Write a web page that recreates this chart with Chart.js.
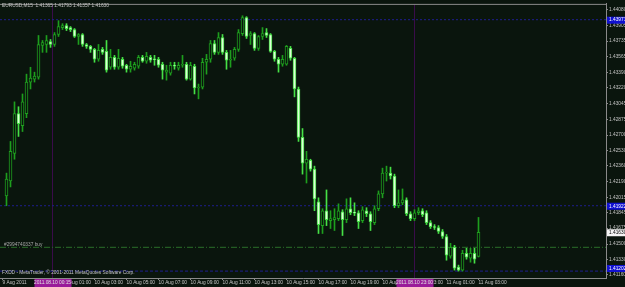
<!DOCTYPE html>
<html>
<head>
<meta charset="utf-8">
<script src="https://cdn.jsdelivr.net/npm/chart.js@4.4.1/dist/chart.umd.min.js"></script>
<style>
  html, body { margin: 0; padding: 0; background: #0a150d; overflow: hidden; }
  canvas { display: block; }
</style>
</head>
<body>
<canvas id="chart" width="625" height="287"></canvas>
<script>
// EURUSD M15 candles, 9 Aug 21:30 .. 11 Aug 03:00
const openP = [
  1.42031, 1.42194, 1.42499, 1.42936, 1.42805, 1.42936, 1.43284, 1.43316, 1.43338, 1.43687,
  1.43698, 1.43731, 1.43698, 1.43808, 1.43884, 1.43906, 1.43884, 1.43862, 1.43786, 1.43808,
  1.43698, 1.43677, 1.43644, 1.43535, 1.43644, 1.43622, 1.43447, 1.43556, 1.43447, 1.43535,
  1.43469, 1.43425, 1.43436, 1.43458, 1.43556, 1.43513, 1.43556, 1.43535, 1.43535, 1.43480,
  1.43393, 1.43382, 1.43469, 1.43436, 1.43469, 1.43480, 1.43316, 1.43458, 1.43219, 1.43229,
  1.43502, 1.43535, 1.43709, 1.43611, 1.43775, 1.43611, 1.43524, 1.43546, 1.43644, 1.43818,
  1.43993, 1.43797, 1.43818, 1.43655, 1.43786, 1.43829, 1.43808, 1.43622, 1.43535, 1.43480,
  1.43480, 1.43655, 1.43546, 1.43208, 1.42674, 1.42390, 1.42423, 1.42325, 1.41965, 1.41703,
  1.41867, 1.41758, 1.41769, 1.41780, 1.41856, 1.41769, 1.41889, 1.41845, 1.41845, 1.41758,
  1.41867, 1.41834, 1.41736, 1.41889, 1.42052, 1.42281, 1.42281, 1.42249, 1.41922, 1.41954,
  1.41987, 1.41834, 1.41780, 1.41845, 1.41867, 1.41845, 1.41736, 1.41692, 1.41682, 1.41638,
  1.41583, 1.41366, 1.41464, 1.41246, 1.41213, 1.41399, 1.41344, 1.41399, 1.41365
];
const highP = [
  1.42281, 1.42630, 1.43066, 1.43012, 1.43153, 1.43371, 1.43447, 1.43393, 1.43797, 1.43742,
  1.43797, 1.43753, 1.43829, 1.43960, 1.43927, 1.43927, 1.43895, 1.43873, 1.43818, 1.43818,
  1.43709, 1.43687, 1.43655, 1.43698, 1.43666, 1.43742, 1.43644, 1.43578, 1.43644, 1.43556,
  1.43480, 1.43513, 1.43502, 1.43578, 1.43578, 1.43611, 1.43578, 1.43578, 1.43556, 1.43502,
  1.43469, 1.43502, 1.43502, 1.43502, 1.43578, 1.43502, 1.43502, 1.43480, 1.43262, 1.43546,
  1.43589, 1.43742, 1.43742, 1.43829, 1.43808, 1.43633, 1.43633, 1.43666, 1.43862, 1.44014,
  1.44004, 1.43840, 1.43829, 1.43797, 1.43884, 1.43873, 1.43818, 1.43633, 1.43556, 1.43578,
  1.43687, 1.43677, 1.43556, 1.43229, 1.42772, 1.42521, 1.42434, 1.42358, 1.42009, 1.41889,
  1.42096, 1.41867, 1.41889, 1.41943, 1.41878, 1.41998, 1.42009, 1.41954, 1.41867, 1.41911,
  1.41900, 1.41856, 1.41922, 1.42085, 1.42336, 1.42358, 1.42347, 1.42270, 1.42096, 1.42107,
  1.42009, 1.41856, 1.41878, 1.41900, 1.41889, 1.41867, 1.41758, 1.41714, 1.41703, 1.41660,
  1.41605, 1.41508, 1.41486, 1.41268, 1.41431, 1.41453, 1.41453, 1.41453, 1.41793
];
const lowP = [
  1.41922, 1.42129, 1.42434, 1.42685, 1.42739, 1.42892, 1.43208, 1.43284, 1.43316, 1.43611,
  1.43611, 1.43666, 1.43677, 1.43786, 1.43862, 1.43851, 1.43840, 1.43775, 1.43698, 1.43677,
  1.43655, 1.43611, 1.43502, 1.43513, 1.43589, 1.43393, 1.43425, 1.43425, 1.43425, 1.43436,
  1.43393, 1.43393, 1.43415, 1.43436, 1.43502, 1.43491, 1.43502, 1.43469, 1.43447, 1.43316,
  1.43305, 1.43360, 1.43425, 1.43415, 1.43447, 1.43305, 1.43305, 1.43153, 1.43099, 1.43208,
  1.43371, 1.43502, 1.43589, 1.43589, 1.43589, 1.43425, 1.43447, 1.43524, 1.43622, 1.43797,
  1.43764, 1.43698, 1.43633, 1.43633, 1.43753, 1.43775, 1.43611, 1.43513, 1.43393, 1.43458,
  1.43469, 1.43524, 1.43121, 1.42630, 1.42270, 1.42172, 1.42303, 1.41867, 1.41616, 1.41616,
  1.41703, 1.41671, 1.41649, 1.41758, 1.41594, 1.41736, 1.41823, 1.41813, 1.41671, 1.41736,
  1.41802, 1.41649, 1.41714, 1.41867, 1.42009, 1.42194, 1.42216, 1.41900, 1.41900, 1.41933,
  1.41813, 1.41758, 1.41758, 1.41823, 1.41802, 1.41714, 1.41671, 1.41660, 1.41616, 1.41562,
  1.41322, 1.41344, 1.41213, 1.41202, 1.41202, 1.41333, 1.41300, 1.41289, 1.41357
];
const closeP = [
  1.42216, 1.42521, 1.42936, 1.42826, 1.43066, 1.43284, 1.43327, 1.43349, 1.43698, 1.43720,
  1.43742, 1.43698, 1.43808, 1.43895, 1.43906, 1.43873, 1.43862, 1.43786, 1.43808, 1.43698,
  1.43677, 1.43644, 1.43535, 1.43633, 1.43611, 1.43415, 1.43556, 1.43447, 1.43546, 1.43458,
  1.43425, 1.43458, 1.43480, 1.43556, 1.43513, 1.43567, 1.43524, 1.43530, 1.43469, 1.43415,
  1.43415, 1.43469, 1.43458, 1.43469, 1.43480, 1.43316, 1.43469, 1.43219, 1.43229, 1.43502,
  1.43535, 1.43709, 1.43611, 1.43775, 1.43611, 1.43524, 1.43535, 1.43644, 1.43829, 1.43993,
  1.43786, 1.43818, 1.43655, 1.43786, 1.43818, 1.43797, 1.43622, 1.43535, 1.43480, 1.43535,
  1.43677, 1.43546, 1.43208, 1.42674, 1.42390, 1.42434, 1.42325, 1.41998, 1.41714, 1.41867,
  1.41769, 1.41780, 1.41791, 1.41867, 1.41769, 1.41889, 1.41845, 1.41840, 1.41747, 1.41878,
  1.41834, 1.41747, 1.41889, 1.42052, 1.42281, 1.42292, 1.42249, 1.41922, 1.41954, 1.41987,
  1.41834, 1.41780, 1.41845, 1.41867, 1.41823, 1.41736, 1.41692, 1.41682, 1.41638, 1.41583,
  1.41377, 1.41464, 1.41235, 1.41213, 1.41399, 1.41355, 1.41399, 1.41333, 1.41630
];

// axis ticks
const priceTicks = [1.44080, 1.43905, 1.43735, 1.43565, 1.43390, 1.43220, 1.43045, 1.42875, 1.42700,
  1.42530, 1.42360, 1.42190, 1.42015, 1.41845, 1.41675, 1.41500, 1.41330, 1.41160];
const timeTickIdx = [-1, 14, 22, 30, 38, 46, 54, 62, 70, 78, 86, 94, 102, 110, 118];
const timeTickLabels = ['9 Aug 2011', '10 Aug 01:00', '10 Aug 03:00', '10 Aug 05:00', '10 Aug 07:00',
  '10 Aug 09:00', '10 Aug 11:00', '10 Aug 13:00', '10 Aug 15:00', '10 Aug 17:00', '10 Aug 19:00',
  '10 Aug 21:00', '10 Aug 23:00', '11 Aug 01:00', '11 Aug 03:00'];

// horizontal price lines and vertical time lines
const blueLines = [1.43971, 1.41922];
const lowLine = 1.41202;
const orderLine = 1.41464;
const vLineIdx = [11.5, 102];
const vLineLabels = ['2011.08.10 00:15', '2011.08.10 23:00'];

const BG = '#0a150d';
const BULL = '#1e9e1e';
const BEAR = '#46e046';
const BEAR_FILL = '#dcffd6';
const AXIS = '#8a8a8a';
const TEXT = '#c4c4c4';
const FONT = 'Liberation Sans';

const xMin = -1.625, xMax = 149.875;
const yMin = 1.41126, yMax = 1.44145;

const idx = openP.map((_, i) => i);
const isBull = idx.map(i => closeP[i] >= openP[i]);

const hLine = (p, color, dash) => ({
    type: 'line',
    data: [{ x: xMin, y: p }, { x: xMax, y: p }],
    borderColor: color,
    borderWidth: 1,
    borderDash: dash,
    pointRadius: 0,
    order: 3
});
const vLine = (v) => ({
    type: 'line',
    data: [{ x: v, y: yMin }, { x: v, y: yMax }],
    borderColor: '#3a0c4a',
    borderWidth: 1,
    pointRadius: 0,
    order: 4
});

const bgPlugin = {
    id: 'bg',
    beforeDraw(chart) {
        const c = chart.ctx;
        c.save();
        c.fillStyle = BG;
        c.fillRect(0, 0, chart.width, chart.height);
        c.restore();
    }
};

const overlayPlugin = {
    id: 'overlay',
    afterDraw(chart) {
        const c = chart.ctx;
        const area = chart.chartArea;
        const xs = chart.scales.x;
        const ys = chart.scales.y;
        c.save();

        // frame top line
        c.strokeStyle = AXIS;
        c.lineWidth = 1;
        c.beginPath();
        c.moveTo(0, area.top + 0.5);
        c.lineTo(area.right, area.top + 0.5);
        c.stroke();

        c.font = `4.8px "${FONT}"`;
        c.textBaseline = 'middle';
        c.textAlign = 'left';

        // header and footer text
        c.fillStyle = TEXT;
        const last = openP.length - 1;
        c.fillText('EURUSD,M15  ' + [openP[last], highP[last], lowP[last], closeP[last]].map(v => v.toFixed(5)).join(' '), 2, 6);
        c.fillText('FXDD - MetaTrader, \u00a9 2001-2011 MetaQuotes Software Corp.', 2, 273);
        c.fillStyle = '#a8a8a8';
        c.fillText('#2994740337 buy', 4, ys.getPixelForValue(orderLine) - 3);

        // time labels of vertical lines
        vLineIdx.forEach((v, k) => {
            const px = xs.getPixelForValue(v);
            c.fillStyle = '#9a1a9a';
            c.fillRect(px - 18, area.bottom + 1, 37, 8);
            c.fillStyle = '#e0e0e0';
            c.textAlign = 'center';
            c.fillText(vLineLabels[k], px, area.bottom + 5);
        });

        // price boxes on the right axis
        c.textAlign = 'left';
        const box = (p, fill, color) => {
            let py = ys.getPixelForValue(p);
            py = Math.min(py, area.bottom - 10);
            c.fillStyle = fill;
            c.fillRect(area.right + 1, py - 3, 19, 7);
            c.fillStyle = color;
            c.fillText(p.toFixed(5), area.right + 3, py + 0.5);
        };
        blueLines.forEach(p => box(p, '#1010d0', '#ffffff'));
        box(lowLine, '#1010d0', '#ffffff');
        box(closeP[last], '#f4f4f4', '#000000');
        c.restore();
    }
};

new Chart(document.getElementById('chart'), {
    type: 'bar',
    data: {
        datasets: [{
            label: 'body',
            data: idx.map(i => ({ x: i, y: [openP[i], closeP[i]] })),
            backgroundColor: idx.map(i => isBull[i] ? BG : BEAR_FILL),
            borderColor: idx.map(i => isBull[i] ? BULL : BEAR),
            borderWidth: 1,
            borderSkipped: false,
            barThickness: 3,
            minBarLength: 1,
            grouped: false,
            order: 0
        }, {
            label: 'wick',
            data: idx.map(i => ({ x: i, y: [lowP[i], highP[i]] })),
            backgroundColor: idx.map(i => isBull[i] ? BULL : BEAR),
            borderWidth: 0,
            barThickness: 1,
            grouped: false,
            order: 1
        },
        hLine(blueLines[0], '#1e1e8e', [2, 2]),
        hLine(blueLines[1], '#1e1e8e', [2, 2]),
        hLine(lowLine, '#1e1e8e', [3, 2]),
        hLine(orderLine, '#2a6e2a', [6, 2, 1, 2]),
        vLine(vLineIdx[0]),
        vLine(vLineIdx[1])]
    },
    options: {
        responsive: false,
        animation: false,
        devicePixelRatio: 1,
        layout: { padding: { top: 1, left: 0, right: 0, bottom: 0 } },
        plugins: {
            legend: { display: false },
            tooltip: { enabled: false }
        },
        scales: {
            x: {
                type: 'linear',
                position: 'bottom',
                min: xMin,
                max: xMax,
                offset: false,
                afterBuildTicks: (axis) => { axis.ticks = timeTickIdx.map(v => ({ value: v })); },
                afterFit: (scale) => { scale.height = 9; },
                ticks: {
                    autoSkip: false,
                    maxRotation: 0,
                    minRotation: 0,
                    align: 'start',
                    padding: 0,
                    color: TEXT,
                    font: { family: FONT, size: 4.8 },
                    callback: (value, index) => timeTickLabels[index]
                },
                grid: { drawOnChartArea: false, offset: false, tickLength: 2, color: AXIS },
                border: { color: AXIS }
            },
            y: {
                type: 'linear',
                position: 'right',
                min: yMin,
                max: yMax,
                afterBuildTicks: (axis) => { axis.ticks = priceTicks.map(v => ({ value: v })); },
                afterFit: (scale) => { scale.width = 19; },
                ticks: {
                    padding: 1,
                    color: TEXT,
                    font: { family: FONT, size: 4.8 },
                    callback: (value) => value.toFixed(5)
                },
                grid: { drawOnChartArea: false, tickLength: 2, color: AXIS },
                border: { color: AXIS }
            }
        }
    },
    plugins: [bgPlugin, overlayPlugin]
});
</script>
</body>
</html>
